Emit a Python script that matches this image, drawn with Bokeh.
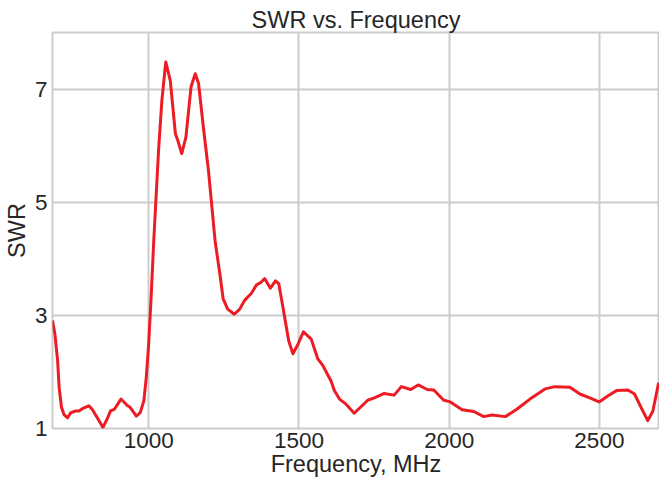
from bokeh.plotting import figure
from bokeh.models import Range1d, FixedTicker
from bokeh.embed import file_html
from bokeh.resources import INLINE

freq = [680, 688, 697, 702, 710, 719, 730, 741, 757, 768, 779, 801, 812, 829, 848,
        862, 873, 886, 908, 928, 939, 959, 972, 984, 992, 1000, 1008, 1017, 1033,
        1044, 1057, 1072, 1089, 1097, 1110, 1124, 1141, 1155, 1166, 1182, 1199,
        1221, 1237, 1248, 1263, 1285, 1303, 1320, 1342, 1359, 1373, 1386, 1405,
        1422, 1433, 1447, 1466, 1480, 1497, 1515, 1541, 1563, 1580, 1607, 1618,
        1635, 1657, 1684, 1729, 1751, 1784, 1817, 1841, 1872, 1897, 1927, 1949,
        1982, 2004, 2043, 2082, 2115, 2143, 2187, 2225, 2269, 2319, 2352, 2402,
        2435, 2468, 2499, 2529, 2557, 2595, 2617, 2639, 2661, 2678, 2697]
swr = [2.91, 2.67, 2.20, 1.73, 1.37, 1.24, 1.19, 1.28, 1.31, 1.31, 1.35, 1.40, 1.34,
       1.19, 1.02, 1.17, 1.31, 1.34, 1.52, 1.41, 1.37, 1.22, 1.28, 1.49, 1.90, 2.49,
       3.30, 4.32, 5.92, 6.80, 7.48, 7.15, 6.21, 6.09, 5.86, 6.15, 7.04, 7.27, 7.10,
       6.33, 5.56, 4.32, 3.73, 3.29, 3.11, 3.02, 3.11, 3.27, 3.39, 3.54, 3.58, 3.65,
       3.48, 3.61, 3.56, 3.14, 2.55, 2.32, 2.49, 2.71, 2.58, 2.23, 2.11, 1.84, 1.67,
       1.52, 1.43, 1.27, 1.50, 1.54, 1.62, 1.59, 1.74, 1.69, 1.77, 1.69, 1.68, 1.50,
       1.47, 1.33, 1.30, 1.21, 1.24, 1.21, 1.34, 1.52, 1.70, 1.74, 1.73, 1.61, 1.54,
       1.47, 1.58, 1.67, 1.68, 1.61, 1.37, 1.14, 1.31, 1.81]
x_ticks = [1000, 1500, 2000, 2500]
y_ticks = [1, 3, 5, 7]
title_text = "SWR vs. Frequency"
x_label = "Frequency, MHz"
y_label = "SWR"

FONT = "Liberation Sans"
TXT = "#262626"
GRID = "#cccccc"

p = figure(width=659, height=487, output_backend="svg", toolbar_location=None,
           x_range=Range1d(680, 2700), y_range=Range1d(1, 8),
           min_border_left=50, min_border_right=0, min_border_top=32,
           min_border_bottom=59)

p.title.text = title_text
p.title.align = "center"
p.title.text_font = FONT
p.title.text_font_size = "23.5px"
p.title.text_font_style = "normal"
p.title.text_color = TXT
p.title.standoff = 0

p.line(freq, swr, line_color="#ed1c24", line_width=3, line_join="round")

p.xaxis.ticker = FixedTicker(ticks=x_ticks)
p.yaxis.ticker = FixedTicker(ticks=y_ticks)
p.xaxis.axis_label = x_label
p.yaxis.axis_label = y_label

for ax in (p.xaxis[0], p.yaxis[0]):
    ax.axis_line_color = None
    ax.major_tick_line_color = None
    ax.minor_tick_line_color = None
    ax.major_tick_out = 0
    ax.major_tick_in = 0
    ax.major_label_text_font = FONT
    ax.major_label_text_font_size = "22.5px"
    ax.major_label_text_color = TXT
    ax.axis_label_text_font = FONT
    ax.axis_label_text_font_size = "23.5px"
    ax.axis_label_text_font_style = "normal"
    ax.axis_label_text_color = TXT
p.xaxis.major_label_standoff = 4
p.xaxis.axis_label_standoff = 0
p.yaxis.major_label_standoff = 5
p.yaxis.axis_label_standoff = 2

p.xgrid.grid_line_color = GRID
p.ygrid.grid_line_color = GRID
p.xgrid.grid_line_width = 2
p.ygrid.grid_line_width = 2
p.outline_line_color = GRID
p.outline_line_width = 2
p.background_fill_color = "white"
p.border_fill_color = "white"

open("out.html", "w").write(file_html(p, INLINE))
